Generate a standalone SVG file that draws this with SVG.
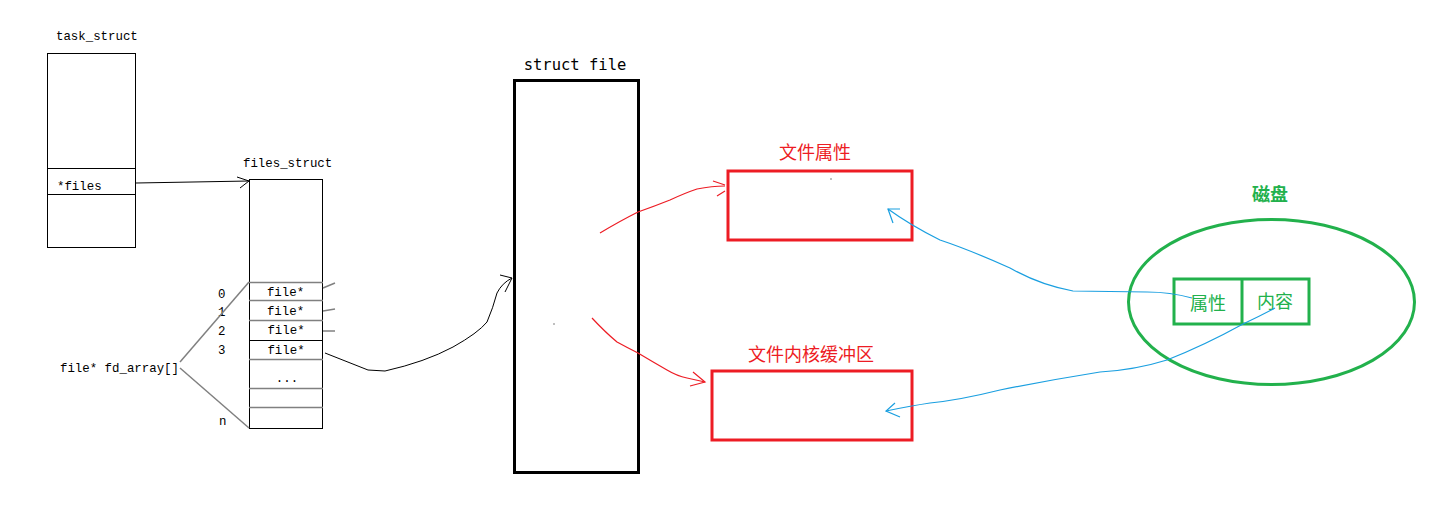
<svg xmlns="http://www.w3.org/2000/svg" width="1450" height="518" viewBox="0 0 1450 518">
<defs>
<style>
.mono{font-family:"Liberation Mono","DejaVu Sans Mono",monospace;font-size:12.4px;fill:#000}
.box{fill:none;stroke:#000;stroke-width:1}
.gline{stroke:#808080;stroke-width:1.5}
.cn{font-family:"Noto Sans CJK SC","Noto Sans",sans-serif;font-size:18px}
.red{stroke:#ed1c24;fill:none;stroke-width:1.2}
.redbox{stroke:#ed1c24;fill:none;stroke-width:3}
.blue{stroke:#1a9fe0;fill:none;stroke-width:1.2}
.green{stroke:#22b14c;fill:none;stroke-width:3}
</style>
</defs>
<rect width="1450" height="518" fill="#fff"/>

<g id="task_struct">
<text class="mono" x="56" y="40">task_struct</text>
<rect class="box" x="47.5" y="53.5" width="88" height="194"/>
<line x1="47" y1="168.5" x2="136" y2="168.5" stroke="#000"/>
<line x1="47" y1="194.5" x2="136" y2="194.5" stroke="#000"/>
<text class="mono" x="57" y="190">*files</text>
</g>

<g id="files_struct">
<text class="mono" x="243" y="167">files_struct</text>
<rect class="box" x="249.5" y="179.5" width="73" height="249"/>
<line class="gline" x1="249" y1="282.5" x2="323" y2="282.5"/>
<line class="gline" x1="249" y1="300.5" x2="323" y2="300.5"/>
<line class="gline" x1="249" y1="320.5" x2="323" y2="320.5"/>
<line x1="249" y1="340.5" x2="323" y2="340.5" stroke="#000"/>
<line class="gline" x1="249" y1="359.5" x2="323" y2="359.5"/>
<line class="gline" x1="249" y1="388.5" x2="323" y2="388.5"/>
<line class="gline" x1="249" y1="407.5" x2="323" y2="407.5"/>
<text class="mono" x="285.5" y="296" text-anchor="middle">file*</text>
<text class="mono" x="285.5" y="315" text-anchor="middle">file*</text>
<text class="mono" x="286" y="334" text-anchor="middle">file*</text>
<text class="mono" x="286" y="354" text-anchor="middle">file*</text>
<text class="mono" x="287" y="382" text-anchor="middle">...</text>
<text class="mono" x="218" y="298">0</text>
<text class="mono" x="218" y="316">1</text>
<text class="mono" x="218" y="335">2</text>
<text class="mono" x="218" y="354">3</text>
<text class="mono" x="219" y="425">n</text>
<text class="mono" x="60" y="372">file* fd_array[]</text>
</g>

<g id="struct_file">
<text x="575" y="70" text-anchor="middle" font-family="DejaVu Sans Mono,monospace" font-size="15.5">struct file</text>
<rect x="514.5" y="80.5" width="124" height="392" fill="none" stroke="#000" stroke-width="3"/>
<rect x="553.5" y="323.5" width="1" height="1" fill="#000"/>
</g>

<g id="attr_box">
<text class="cn" x="815" y="159" text-anchor="middle" fill="#ed1c24">文件属性</text>
<rect class="redbox" x="728" y="171" width="184" height="69"/>
<rect x="830.5" y="178.5" width="1" height="1" fill="#000"/>
</g>

<g id="buffer_box">
<text class="cn" x="811" y="361" text-anchor="middle" fill="#ed1c24">文件内核缓冲区</text>
<rect class="redbox" x="712" y="371" width="200" height="69"/>
</g>

<g id="disk">
<text class="cn" x="1270" y="201" text-anchor="middle" fill="#22b14c" font-weight="bold">磁盘</text>
<ellipse class="green" cx="1271.5" cy="302" rx="143" ry="82.5"/>
<rect class="green" x="1174" y="279" width="135" height="45"/>
<line class="green" x1="1242" y1="279" x2="1242" y2="324"/>
<text class="cn" x="1208" y="310" text-anchor="middle" fill="#22b14c">属性</text>
<text class="cn" x="1275" y="308" text-anchor="middle" fill="#22b14c">内容</text>
</g>

<g id="connectors">
<path d="M136,183 L249,181" stroke="#000" fill="none"/>
<path d="M237,177 L249,181 L240,188" stroke="#000" fill="none"/>
<path d="M180,362 L249,282" class="gline" stroke-width="1"/>
<path d="M180,368 L249,428" class="gline" stroke-width="1"/>
<path d="M323,288 L335,283" class="gline" stroke-width="1"/>
<path d="M323,311 L335,309" class="gline" stroke-width="1"/>
<path d="M323,331 L335,331" class="gline" stroke-width="1"/>
<path d="M325,353 L368,370 L385,371 Q425,362 453,347 Q478,333 487,322 Q493,308 497,293 Q502,283 512,278" stroke="#000" fill="none"/>
<path d="M500,275 L512,278 L505,292" stroke="#000" fill="none"/>
<path d="M600,233 Q620,221 638,212 Q655,206 670,200 Q685,193 697,189 Q712,186 725,186" class="red"/>
<path d="M713,181 L725,185 M717,196 L725,191" class="red"/>
<path d="M592,318 Q605,332 617,342 Q628,348 638,353 Q653,362 667,370 Q677,376 687,378 L705,382" class="red"/>
<path d="M693,372 L705,382 L690,386" class="red"/>
<path d="M1192,298 Q1170,292 1147,292 L1073,291 Q1040,285 1010,268 Q970,250 940,240 Q910,225 888,209" class="blue"/>
<path d="M900,209 L888,209 L893,223" class="blue"/>
<path d="M1275,308 Q1260,316 1243,324 Q1205,345 1167,360 Q1135,370 1100,372 Q1050,380 1000,390 Q960,400 930,403 Q910,406 886,411" class="blue"/>
<path d="M895,403 L886,411 L900,417" class="blue"/>
</g>
</svg>
